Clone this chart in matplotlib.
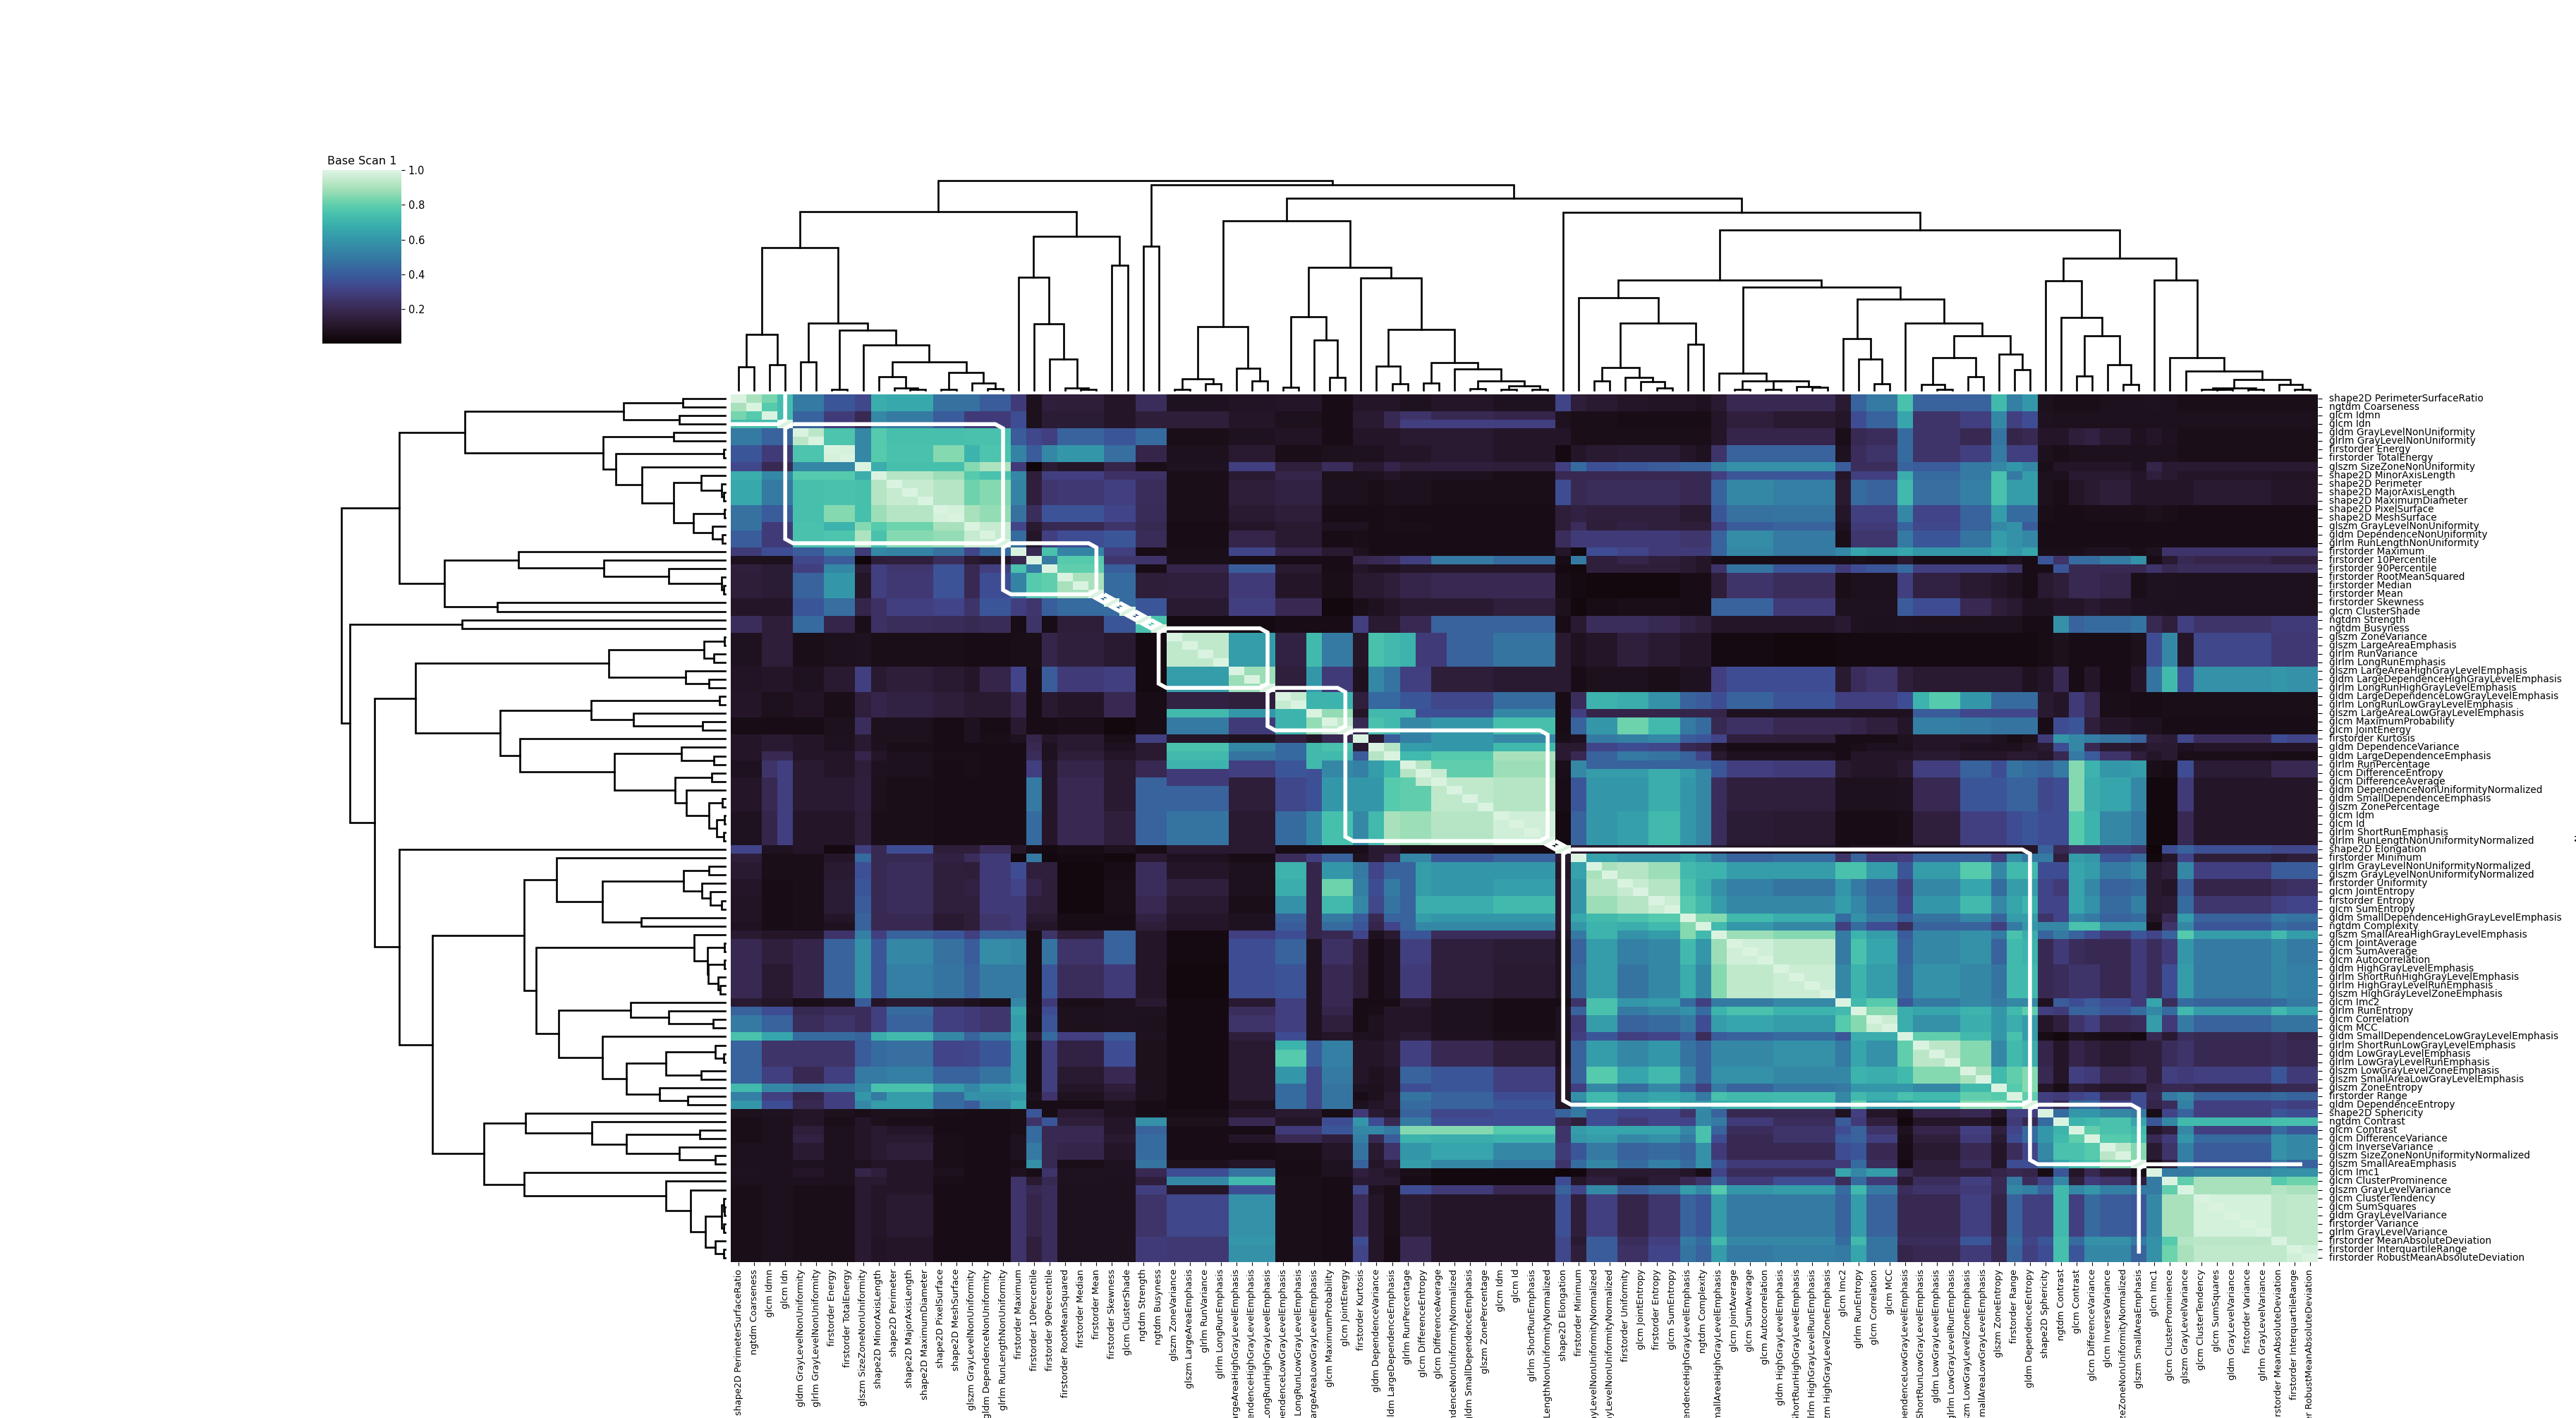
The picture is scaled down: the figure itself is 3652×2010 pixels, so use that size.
import numpy as np
import matplotlib
matplotlib.use("Agg")
import matplotlib.pyplot as plt
import seaborn as sns

features = """shape2D PerimeterSurfaceRatio|ngtdm Coarseness|glcm Idmn|glcm Idn|gldm GrayLevelNonUniformity|glrlm GrayLevelNonUniformity|firstorder Energy|firstorder TotalEnergy|glszm SizeZoneNonUniformity|shape2D MinorAxisLength|shape2D Perimeter|shape2D MajorAxisLength|shape2D MaximumDiameter|shape2D PixelSurface|shape2D MeshSurface|glszm GrayLevelNonUniformity|gldm DependenceNonUniformity|glrlm RunLengthNonUniformity|firstorder Maximum|firstorder 10Percentile|firstorder 90Percentile|firstorder RootMeanSquared|firstorder Median|firstorder Mean|firstorder Skewness|glcm ClusterShade|ngtdm Strength|ngtdm Busyness|glszm ZoneVariance|glszm LargeAreaEmphasis|glrlm RunVariance|glrlm LongRunEmphasis|glszm LargeAreaHighGrayLevelEmphasis|gldm LargeDependenceHighGrayLevelEmphasis|glrlm LongRunHighGrayLevelEmphasis|gldm LargeDependenceLowGrayLevelEmphasis|glrlm LongRunLowGrayLevelEmphasis|glszm LargeAreaLowGrayLevelEmphasis|glcm MaximumProbability|glcm JointEnergy|firstorder Kurtosis|gldm DependenceVariance|gldm LargeDependenceEmphasis|glrlm RunPercentage|glcm DifferenceEntropy|glcm DifferenceAverage|gldm DependenceNonUniformityNormalized|gldm SmallDependenceEmphasis|glszm ZonePercentage|glcm Idm|glcm Id|glrlm ShortRunEmphasis|glrlm RunLengthNonUniformityNormalized|shape2D Elongation|firstorder Minimum|glrlm GrayLevelNonUniformityNormalized|glszm GrayLevelNonUniformityNormalized|firstorder Uniformity|glcm JointEntropy|firstorder Entropy|glcm SumEntropy|gldm SmallDependenceHighGrayLevelEmphasis|ngtdm Complexity|glszm SmallAreaHighGrayLevelEmphasis|glcm JointAverage|glcm SumAverage|glcm Autocorrelation|gldm HighGrayLevelEmphasis|glrlm ShortRunHighGrayLevelEmphasis|glrlm HighGrayLevelRunEmphasis|glszm HighGrayLevelZoneEmphasis|glcm Imc2|glrlm RunEntropy|glcm Correlation|glcm MCC|gldm SmallDependenceLowGrayLevelEmphasis|glrlm ShortRunLowGrayLevelEmphasis|gldm LowGrayLevelEmphasis|glrlm LowGrayLevelRunEmphasis|glszm LowGrayLevelZoneEmphasis|glszm SmallAreaLowGrayLevelEmphasis|glszm ZoneEntropy|firstorder Range|gldm DependenceEntropy|shape2D Sphericity|ngtdm Contrast|glcm Contrast|glcm DifferenceVariance|glcm InverseVariance|glszm SizeZoneNonUniformityNormalized|glszm SmallAreaEmphasis|glcm Imc1|glcm ClusterProminence|glszm GrayLevelVariance|glcm ClusterTendency|glcm SumSquares|gldm GrayLevelVariance|firstorder Variance|glrlm GrayLevelVariance|firstorder MeanAbsoluteDeviation|firstorder InterquartileRange|firstorder RobustMeanAbsoluteDeviation""".split("|")

# number of neighbouring features sharing one row of the block table below
block_sizes = [2,2,2,2,1,1,3,2,1,2,1,1,1,3,2,2,4,3,3,2,1,1,1,2,4,4,1,1,2,2,2,1,1,1,3,4,1,1,2,1,3,2,1,1,1,1,1,1,1,2,1,1,1,1,5,1,2]

# upper triangle of correlation between blocks, in percent
corr_rows = [
[90,78,50,38,33,68,66,47,47,40,28,7,15,14,10,22,8,9,10,5,10,10,10,8,10,8,32,14,12,10,9,9,8,12,20,20,12,42,50,75,42,42,72,52,60,7,6,6,6,7,7,8,7,6,6,6,6],
[85,42,28,20,55,50,40,28,28,35,7,13,13,10,14,14,10,7,5,12,12,20,25,20,18,8,6,6,5,5,5,5,10,15,12,10,35,42,65,25,30,55,30,35,8,7,7,7,7,7,7,7,7,7,7,7],
[93,76,55,78,74,74,75,75,40,33,30,42,38,45,6,8,9,5,10,10,10,12,12,10,10,6,6,6,6,6,6,10,18,18,6,20,22,45,25,20,48,18,20,10,10,14,16,12,8,10,8,6,6,6,6],
[98,55,78,75,85,70,76,53,40,55,60,46,18,7,12,6,7,8,8,10,10,12,10,4,10,12,13,13,10,8,25,42,42,8,22,25,45,25,30,50,30,30,7,6,7,7,7,7,7,7,6,6,6,6],
[100,68,74,74,85,91,28,2,13,10,18,6,8,30,15,22,12,12,18,14,15,14,30,45,36,38,40,42,42,52,58,58,40,22,22,42,40,50,55,60,55,6,10,10,10,10,8,18,12,12,12,12,12],
[100,92,88,78,75,55,14,30,30,24,24,6,12,18,7,7,8,10,8,7,6,20,20,20,20,20,20,20,30,38,38,10,30,30,68,45,50,75,50,62,7,7,12,12,12,10,15,12,10,10,9,9],
[95,92,82,85,53,15,26,27,30,22,6,14,16,7,7,6,7,7,6,6,35,20,22,22,22,20,20,42,55,52,12,45,42,72,46,52,75,62,62,7,6,10,12,14,10,10,10,10,12,10,10],
[98,90,87,47,22,37,37,32,21,6,12,14,5,5,5,6,5,5,5,14,16,15,15,15,12,12,38,47,48,10,30,30,55,32,42,62,45,45,6,5,5,6,6,6,7,6,5,5,5,5],
[97,95,32,12,20,20,25,20,5,10,12,8,8,5,6,6,5,5,14,22,14,16,15,14,14,30,40,42,8,28,28,42,33,42,55,58,40,5,5,5,5,5,5,5,5,5,5,5,5],
[95,45,10,30,35,38,21,5,18,12,5,6,5,5,5,5,5,22,28,28,28,28,26,26,42,56,50,6,26,26,50,38,48,62,58,55,5,5,5,5,5,5,5,5,5,5,5,5],
[100,20,75,53,30,5,6,32,18,12,8,5,5,5,5,5,10,3,35,32,28,28,28,42,55,50,55,65,62,65,60,60,65,60,65,6,6,6,8,8,6,8,25,25,25,25,25],
[100,50,78,26,25,6,5,5,5,18,20,22,30,50,45,5,50,15,18,15,12,10,5,5,5,5,6,5,12,5,5,5,7,5,38,25,45,45,50,58,5,12,20,18,15,15],
[100,80,41,5,18,40,12,5,10,8,8,10,10,10,4,3,15,14,14,12,10,25,48,38,28,35,38,45,30,30,30,25,5,5,38,20,20,20,20,25,20,22,22,22,22],
[90,45,14,15,28,10,6,12,12,14,18,20,20,5,4,3,3,3,5,5,14,25,22,6,7,7,30,16,12,10,8,5,12,14,20,20,18,6,8,8,7,7,7,7],
[45,38,12,30,20,3,6,8,10,12,12,15,7,3,5,6,6,5,5,42,42,28,8,8,8,40,35,20,14,12,8,8,10,10,12,10,8,8,7,7,7,7,7],
[75,4,4,5,5,30,12,12,20,42,42,5,12,22,22,20,16,14,10,10,10,12,8,7,8,7,7,7,7,5,5,58,42,45,45,48,20,15,30,25,28,28],
[94,62,16,50,10,75,72,40,42,48,12,8,10,15,12,10,10,4,4,3,4,4,4,4,4,4,4,4,4,5,7,5,5,5,7,35,55,10,33,27,27],
[88,15,28,8,55,48,30,14,12,12,5,7,7,6,8,8,30,35,35,12,22,25,15,12,12,12,12,8,10,20,5,10,5,10,48,72,35,58,60,58],
[95,70,15,44,44,38,33,45,5,22,70,68,58,42,40,35,42,37,30,30,30,35,78,60,45,45,45,12,10,28,20,6,5,5,6,6,6,6,6],
[94,20,75,72,55,60,74,5,42,60,82,72,50,45,20,24,20,20,18,15,10,52,50,48,48,48,5,35,38,15,10,8,8,5,5,5,5,5],
[100,12,40,52,60,55,6,8,50,52,55,40,38,32,15,14,5,5,5,8,10,10,8,5,7,28,60,55,52,48,42,15,13,33,22,35,32],
[100,92,62,60,72,12,12,32,35,33,20,18,8,5,5,5,6,8,7,10,8,7,7,10,12,35,55,20,12,10,12,12,8,10,10,10],
[100,72,78,90,12,20,42,50,48,42,32,12,8,8,5,10,10,10,12,10,10,12,12,10,20,50,40,25,15,10,12,6,6,5,5],
[92,80,88,6,55,62,62,68,62,55,38,30,28,12,10,10,12,30,42,35,48,45,42,50,85,70,60,62,6,5,35,13,20,20],
[94,92,5,38,60,60,68,60,55,22,15,15,7,7,7,8,20,38,38,42,42,33,35,85,68,65,55,3,3,28,10,10,10],
[97,4,42,60,63,72,60,55,22,13,12,5,5,5,6,15,30,30,35,38,35,35,78,70,55,50,3,3,20,10,10,10],
[100,12,10,12,12,12,12,10,8,8,5,8,8,7,8,10,10,10,10,42,20,25,25,28,25,2,35,42,36,33,33],
[100,64,60,60,66,60,50,42,45,25,42,28,30,42,42,30,58,50,50,15,62,60,38,45,3,10,32,14,12,14],
[90,92,88,72,70,70,62,62,75,75,62,38,62,78,55,72,72,35,35,65,62,50,55,12,15,55,30,40,40],
[95,92,75,68,58,52,48,60,50,42,30,55,65,45,62,62,32,28,65,55,42,45,12,10,40,18,22,24],
[96,78,72,62,55,55,62,55,45,32,60,72,55,65,70,32,32,65,58,45,52,12,13,45,26,30,32],
[100,85,85,72,68,45,58,50,40,48,55,42,62,62,25,32,55,50,42,45,10,20,62,42,50,48],
[100,72,60,55,30,45,35,22,42,42,30,50,60,55,55,75,75,58,58,5,25,55,38,45,42],
[100,88,85,50,70,62,40,55,58,50,75,68,42,50,42,35,28,38,32,42,78,62,72,62],
[97,94,50,75,65,42,55,58,42,72,70,20,28,22,20,20,28,22,28,60,50,55,50],
[96,55,70,62,45,58,55,48,72,72,20,22,25,25,20,28,22,35,62,50,55,52],
[100,72,78,38,50,55,50,55,55,8,40,35,40,35,28,65,22,45,42,45,50],
[100,85,68,65,70,60,72,80,30,28,42,42,38,45,55,45,72,62,72,65],
[96,68,58,68,60,68,62,10,15,25,30,20,22,62,28,50,42,48,48],
[100,80,72,60,75,62,5,3,8,6,5,4,20,12,22,20,22,18],
[93,85,55,72,68,18,10,18,15,12,15,15,22,25,20,22,20],
[90,72,80,85,20,10,30,28,20,22,15,30,28,30,38,28],
[100,78,85,10,5,15,12,10,10,18,20,20,17,20,20],
[100,80,30,28,32,35,22,35,20,50,55,42,45,42],
[100,30,20,45,45,32,35,18,22,52,30,32,30],
[100,45,60,60,55,50,5,32,42,30,38,35],
[100,70,72,75,65,38,55,72,72,74,74],
[100,80,75,72,10,15,55,30,45,38],
[100,78,75,20,28,60,45,58,55],
[93,85,12,25,52,40,58,55],
[100,5,15,50,38,50,42],
[100,50,50,55,58,58],
[100,80,90,78,82],
[100,90,92,90],
[98,93,94],
[100,94],
[97],
]

# single cells that differ from their block: first row, last row, first column, last column, percent
corr_details = [
(37,37,28,31,72),(37,37,32,34,60),(37,37,35,36,70),(37,37,38,39,87),(37,37,40,40,10),
(37,37,41,43,72),(37,37,44,48,36),(37,37,49,52,55),(37,37,54,54,30),(37,37,55,63,18),
(37,37,64,75,8),(37,37,76,78,40),(37,37,79,83,33),
(28,31,43,43,70),(28,31,44,45,28),(3,3,43,52,30),(43,43,55,62,42),(44,45,44,45,95),
(35,36,76,76,70),(0,2,3,3,73),(0,0,2,2,83),
]

# shared tree of both dendrograms: (height, first child, second child), leaves are feature numbers
tree = (1421,
  (1207,
    (964,
      (376, (156,0,1), (170,2,3)),
      (452, (190,4,5),
        (405, (4,6,7),
          (308, 8,
            (190,
              (89, 9, (14, 10, (4,11,12))),
              (118, (3,13,14), (47, 15, (10,16,17)))))))),
    (1040,
      (765, 18, (449, 19, (209, 20, (14, 21, (6,22,23))))),
      (844, 24, 25))),
  (1390,
    (975, 26, 27),
    (1299,
      (1148,
        (431, (78,(3,28,29),(42,30,31)), (146,32,(60,33,34))),
        (833,
          (496, (21,35,36), (340,37,(84,38,39))),
          (760, 40,
            (410,
              (162, 41, (42,42,43)),
              (186, (49,44,45),
                (144, 46, (60, (10,47,48), (31,(3,49,50),(6,51,52))))))))),
      (1206, 53,
        (1084,
          (745,
            (624, 54,
              (455,
                (154, (60,55,56), (87,57,(55,58,(13,59,60)))),
                (311, 61, 62))),
            (700,
              (115, 63, (64, (3,64,65), (62, (3,66,67), (26,68,(18,69,70))))),
              (617,
                (350, 71, (209, 72, (45,73,74))),
                (455, 75,
                  (366,
                    (219, (36,76,(4,77,78)), (89,79,80)),
                    (243, 81, (138,82,83))))))),
          (894,
            (739, 84, (494, 85, (366, (94,86,87), (170, 88, (36,89,90))))),
            (745, 91, (219, 92, (128, 93,
              (74, (12, (5,94,(3,95,96)), (4,97,98)), (36,99,(6,100,101))))))))))))

# last feature of each outlined cluster
cluster_ends = [3,17,23,24,25,26,27,34,39,52,53,83,90,101]

cbar_ticks = [0.2, 0.4, 0.6, 0.8, 1.0]
cbar_title = "Base Scan 1"

# ---- matrix ----
n = len(features)
starts = np.cumsum([0] + block_sizes)
matrix = np.zeros((n, n))
for i, row in enumerate(corr_rows):
    for k, v in enumerate(row):
        j = i + k
        matrix[starts[i]:starts[i+1], starts[j]:starts[j+1]] = v / 100
        matrix[starts[j]:starts[j+1], starts[i]:starts[i+1]] = v / 100
for r0, r1, c0, c1, v in corr_details:
    matrix[r0:r1+1, c0:c1+1] = v / 100
    matrix[c0:c1+1, r0:r1+1] = v / 100
np.fill_diagonal(matrix, 0.99)

W, H = 3652, 2010
fig = plt.figure(figsize=(W/100, H/100), dpi=100, facecolor="white")
def axes_px(x0, y0, x1, y1):
    return fig.add_axes([x0/W, 1-y1/H, (x1-x0)/W, (y1-y0)/H])

HX0, HX1, HY0, HY1 = 1036, 3286, 559, 1789
cmap = sns.color_palette("mako", as_cmap=True)

ax = axes_px(HX0, HY0, HX1, HY1)
edges = np.arange(n + 1)
mesh = ax.pcolormesh(edges, edges, matrix, cmap=cmap, vmin=0.003, vmax=1.0, antialiased=False, linewidth=0)
ax.set_xlim(0, n); ax.set_ylim(n, 0)
for s in ax.spines.values():
    s.set_visible(False)
ax.yaxis.tick_right()
ax.set_xticks(np.arange(n) + 0.5)
ax.set_xticklabels(features, rotation=90, fontsize=9.3)
ax.set_yticks(np.arange(n) + 0.5)
ax.set_yticklabels(features, fontsize=9.8, va="center")
ax.tick_params(axis="x", length=3.5, width=0.8, pad=3.5, color="black")
ax.tick_params(axis="y", length=4.5, width=0.8, pad=7, color="black")
ax.set_ylabel("None", fontsize=10)
ax.yaxis.set_label_position("right")
ax.yaxis.set_label_coords(1.161, 0.5)

# cluster outlines
edge_vals = [-0.5] + [e + 0.5 for e in cluster_ends]
c = 0.5
for a, b in zip(edge_vals[:-1], edge_vals[1:]):
    if a < 0:
        xs = [0, b-c, b, b]; ys = [b, b, b-c, 0]
    elif b > n - 1:
        xs = [b-c, a+c, a, a]; ys = [a, a, a+c, b-c]
    else:
        xs = [a+c, b-c, b, b, b-c, a+c, a, a, a+c]
        ys = [a, a, a+c, b-c, b, b, b-c, a+c, a]
    ax.plot(xs, ys, color="white", lw=4.0, solid_joinstyle="miter", solid_capstyle="butt")

# dendrograms
def segments(node, out):
    if not isinstance(node, tuple):
        return node + 0.5, 0
    h, l, r = node
    xl, hl = segments(l, out)
    xr, hr = segments(r, out)
    out.append(((xl, xl, xr, xr), (hl, h, h, hr)))
    return (xl + xr) / 2, h
segs = []
segments(tree, segs)
root = tree[0]

top = axes_px(HX0, 255.7, HX1, 553)
left = axes_px(484, HY0, 1028, HY1)
for xs, hs in segs:
    top.plot(xs, hs, color="black", lw=1.9, solid_joinstyle="miter", clip_on=False)
    left.plot(hs, xs, color="black", lw=1.9, solid_joinstyle="miter", clip_on=False)
top.set_xlim(0, n); top.set_ylim(0, root)
left.set_ylim(n, 0); left.set_xlim(root, 0)
for a_ in (top, left):
    a_.axis("off")

# colour bar
cax = axes_px(457, 241, 569, 487)
cb = fig.colorbar(mesh, cax=cax, ticks=cbar_ticks)
cb.outline.set_visible(False)
cb.ax.tick_params(length=3.5, width=0.8, labelsize=10.5, pad=3.5)
cb.ax.set_title(cbar_title, fontsize=11.5, pad=6)

fig.savefig("out.png", dpi=100)
